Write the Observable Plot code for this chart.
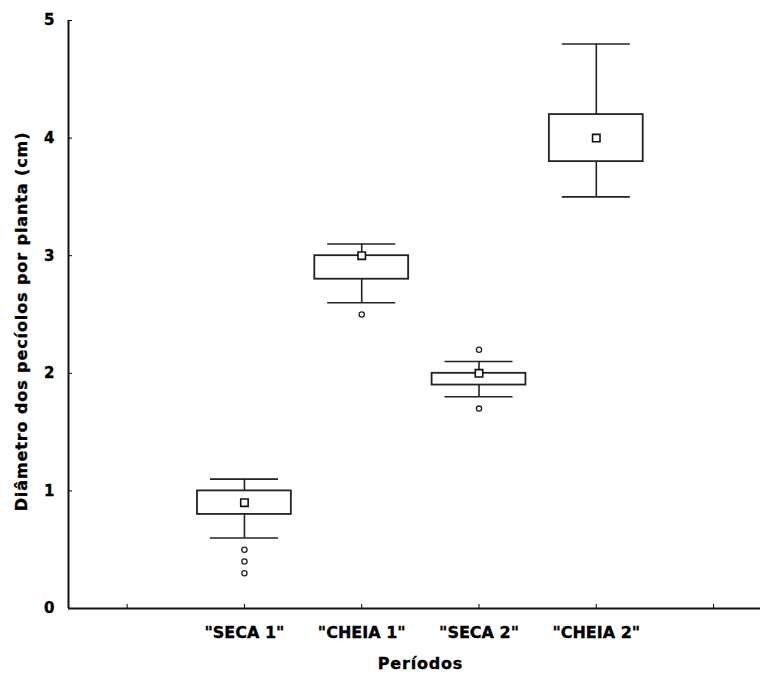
<!DOCTYPE html>
<html>
<head>
<meta charset="utf-8">
<script src="https://cdn.jsdelivr.net/npm/d3@7"></script>
<script src="https://cdn.jsdelivr.net/npm/@observablehq/plot@0.6"></script>
<style>
  html, body { margin: 0; padding: 0; background: #fff; }
  body { width: 760px; height: 676px; overflow: hidden; }
  svg text { font-family: "DejaVu Sans", sans-serif; font-weight: bold; stroke: #000; stroke-width: 0.35px; }
  .ytitle text { letter-spacing: 0.9px; }
  .xtitle text { letter-spacing: 0.8px; }
</style>
</head>
<body>
<div id="chart"></div>
<script>
// Petiole diameter per plant (cm) by sampling period
const periods = ['"SECA 1"', '"CHEIA 1"', '"SECA 2"', '"CHEIA 2"'];
const whiskerLow  = [0.6, 2.6, 1.8, 3.5];
const boxLow      = [0.8, 2.8, 1.9, 3.8];
const center      = [0.9, 3.0, 2.0, 4.0];
const boxHigh     = [1.0, 3.0, 2.0, 4.2];
const whiskerHigh = [1.1, 3.1, 2.1, 4.8];
const outlierPeriod = [0, 0, 0, 1, 2, 2];
const outlierValue  = [0.5, 0.4, 0.3, 2.5, 2.2, 1.7];
const yTicks = [0, 1, 2, 3, 4, 5];
const xTicks = [0, 1, 2, 3, 4, 5];
const yTitle = "Diâmetro dos pecíolos por planta (cm)";
const xTitle = "Períodos";

const boxes = periods.map((p, i) => ({
  pos: i + 1,
  wLo: whiskerLow[i], bLo: boxLow[i], mid: center[i],
  bHi: boxHigh[i], wHi: whiskerHigh[i]
}));
const outliers = outlierPeriod.map((p, i) => ({pos: p + 1, v: outlierValue[i]}));

const boxHalf = 0.4;   // half box width in period units
const capHalf = 0.29;  // half whisker-cap width

const chart = Plot.plot({
  width: 760,
  height: 676,
  marginLeft: 68,
  marginRight: 0,
  marginTop: 20,
  marginBottom: 68,
  style: {fontSize: "16px", fontFamily: "DejaVu Sans, sans-serif", color: "#000", background: "#fff"},
  x: {type: "linear", domain: [-0.5, 5.4], label: null},
  y: {domain: [0, 5], label: null},
  marks: [
    // axes with inward ticks
    Plot.axisY(yTicks, {tickSize: 4, dx: 4, tickPadding: 14, tickFormat: d => d, fontSize: 15, fontWeight: "bold", label: null}),
    Plot.axisX(xTicks, {tickSize: 4, dy: -4, tickPadding: 18, tickFormat: d => periods[d - 1] ?? "", fontSize: 16, fontWeight: "bold", label: null}),
    Plot.ruleX([-0.5], {y1: 0, y2: 5, stroke: "#111", strokeWidth: 2}),
    Plot.ruleY([0], {stroke: "#111", strokeWidth: 2}),
    // whiskers
    Plot.ruleX(boxes, {x: "pos", y1: "bHi", y2: "wHi", stroke: "#222", strokeWidth: 1.6}),
    Plot.ruleX(boxes, {x: "pos", y1: "wLo", y2: "bLo", stroke: "#222", strokeWidth: 1.6}),
    Plot.ruleY(boxes, {y: "wHi", x1: d => d.pos - capHalf, x2: d => d.pos + capHalf, stroke: "#222", strokeWidth: 1.6}),
    Plot.ruleY(boxes, {y: "wLo", x1: d => d.pos - capHalf, x2: d => d.pos + capHalf, stroke: "#222", strokeWidth: 1.6}),
    // boxes
    Plot.rect(boxes, {x1: d => d.pos - boxHalf, x2: d => d.pos + boxHalf, y1: "bLo", y2: "bHi", fill: "#fff", stroke: "#222", strokeWidth: 1.8}),
    // central marker
    Plot.dot(boxes, {x: "pos", y: "mid", symbol: "square", r: 4.2, fill: "#fff", stroke: "#111", strokeWidth: 1.6}),
    // outliers
    Plot.dot(outliers, {x: "pos", y: "v", r: 2.6, fill: "#fff", stroke: "#222", strokeWidth: 1.3}),
    // axis titles
    Plot.text([yTitle], {frameAnchor: "left", textAnchor: "middle", dx: -47, dy: 7, rotate: -90, fontSize: 16, fontWeight: "bold", fill: "#000", className: "ytitle"}),
    Plot.text([xTitle], {frameAnchor: "bottom", textAnchor: "middle", dy: 60, dx: 6, fontSize: 16, fontWeight: "bold", fill: "#000", className: "xtitle"})
  ]
});
document.getElementById("chart").appendChild(chart);
</script>
</body>
</html>
